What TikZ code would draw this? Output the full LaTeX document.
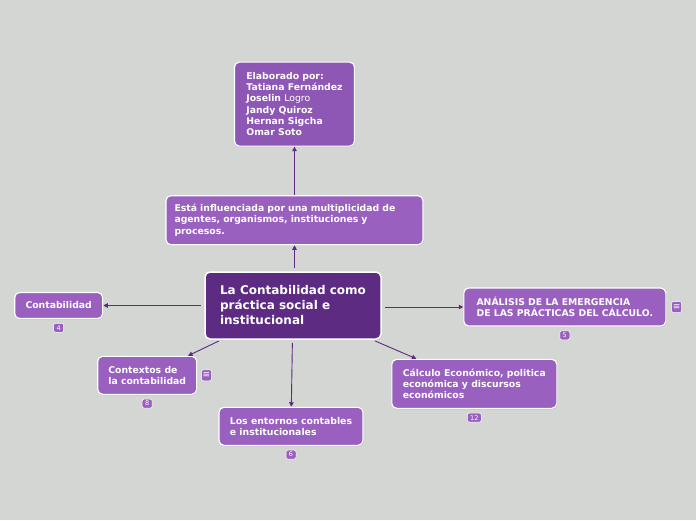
\documentclass[tikz,border=0pt]{standalone}
\usepackage{fontspec}
\setmainfont{DejaVu Sans}
\usetikzlibrary{arrows.meta, positioning, shadows}
\definecolor{canvas}{HTML}{D4D6D3}
\definecolor{topicfill}{HTML}{9A60BF}
\definecolor{authorfill}{HTML}{8E57B5}
\definecolor{mainfill}{HTML}{5D2B82}
\definecolor{linkcolor}{HTML}{5D2B82}

\begin{document}
\begin{tikzpicture}[
            x=1pt, y=-1pt,
            every node/.style={text=white, font=\fontsize{9.3}{11.2}\selectfont\bfseries},
            topic/.style={
                rectangle,
                draw=white,
                line width=1.1pt,
                rounded corners=5pt,
                align=left,
                inner xsep=0pt,
                inner ysep=0pt,
                fill=topicfill,
                drop shadow={shadow xshift=0.8pt, shadow yshift=-1pt, opacity=0.25}
            },
            maintopic/.style={
                topic,
                fill=mainfill,
                line width=1.5pt,
                font=\fontsize{12}{15}\selectfont\bfseries
            },
            badge/.style={
                rectangle,
                draw=white,
                line width=0.5pt,
                rounded corners=2pt,
                fill=topicfill,
                minimum height=9pt,
                minimum width=10pt,
                inner sep=1pt,
                font=\fontsize{6.5}{6.5}\selectfont
            },
            notes/.style={
                badge,
                minimum height=11pt,
                minimum width=10pt,
                inner sep=0pt,
                font=\fontsize{9}{9}\selectfont
            },
            link/.style={draw=linkcolor, line width=0.9pt, -{Triangle[length=4.5pt, width=4.5pt]}, shorten <=3pt}
        ]

        \fill[canvas] (0,0) rectangle (696,520);

        % Nodes
        \node[maintopic, minimum width=176pt, minimum height=67pt] (central) at (293,305.5)
            {La Contabilidad como\\práctica social e\\institucional};

        \node[topic, text width=240pt, inner xsep=8.5pt, minimum height=49pt, above=26pt of central, xshift=1.5pt] (esta)
            {Está influenciada por una multiplicidad de\\agentes, organismos, instituciones y\\procesos.};

        \node[topic, fill=authorfill, minimum width=120pt, minimum height=84pt, above=48.5pt of esta] (autores)
            {Elaborado por:\\Tatiana Fernández\\Joselin {\mdseries Logro}\\Jandy Quiroz\\Hernan Sigcha\\Omar Soto};

        \node[topic, minimum width=88pt, minimum height=26pt, left=101pt of central] (conta) {Contabilidad};

        \node[topic, minimum width=99pt, minimum height=38pt, below left=16pt and 7pt of central] (contextos)
            {Contextos de\\la contabilidad};

        \node[topic, minimum width=144pt, minimum height=38pt, below=67pt of central, xshift=-2pt] (entornos)
            {Los entornos contables\\e institucionales};

        \node[topic, minimum width=165pt, minimum height=49pt, below right=19pt and 9.5pt of central] (calculo)
            {Cálculo Económico, politica\\económica y discursos\\económicos};

        \node[topic, minimum width=202pt, minimum height=38pt, right=81.5pt of central, yshift=-1.5pt] (analisis)
            {ANÁLISIS DE LA EMERGENCIA\\DE LAS PRÁCTICAS DEL CÁLCULO.};

        % Badges
        \node[badge, below=4pt of conta] (b4) {4};
        \node[badge, below=4pt of contextos] (b8) {8};
        \node[badge, below=4pt of entornos] (b6) {6};
        \node[badge, minimum width=14pt, below=4pt of calculo] (b12) {12};
        \node[badge, below=4pt of analisis] (b5) {5};

        \node[notes, right=4pt of contextos] (n8) {≡};
        \node[notes, right=5pt of analisis] (n5) {≡};

        % Arrows
        \draw[link] (central.north -| esta) -- (esta);
        \draw[link, shorten <=0pt] (esta) -- (autores);
        \draw[link] (central) -- (conta);
        \draw[link] (central) -- (contextos);
        \draw[link] (central) -- (entornos);
        \draw[link] (central) -- (calculo);
        \draw[link] (central.east |- analisis) -- (analisis);

        \end{tikzpicture}
\end{document}
